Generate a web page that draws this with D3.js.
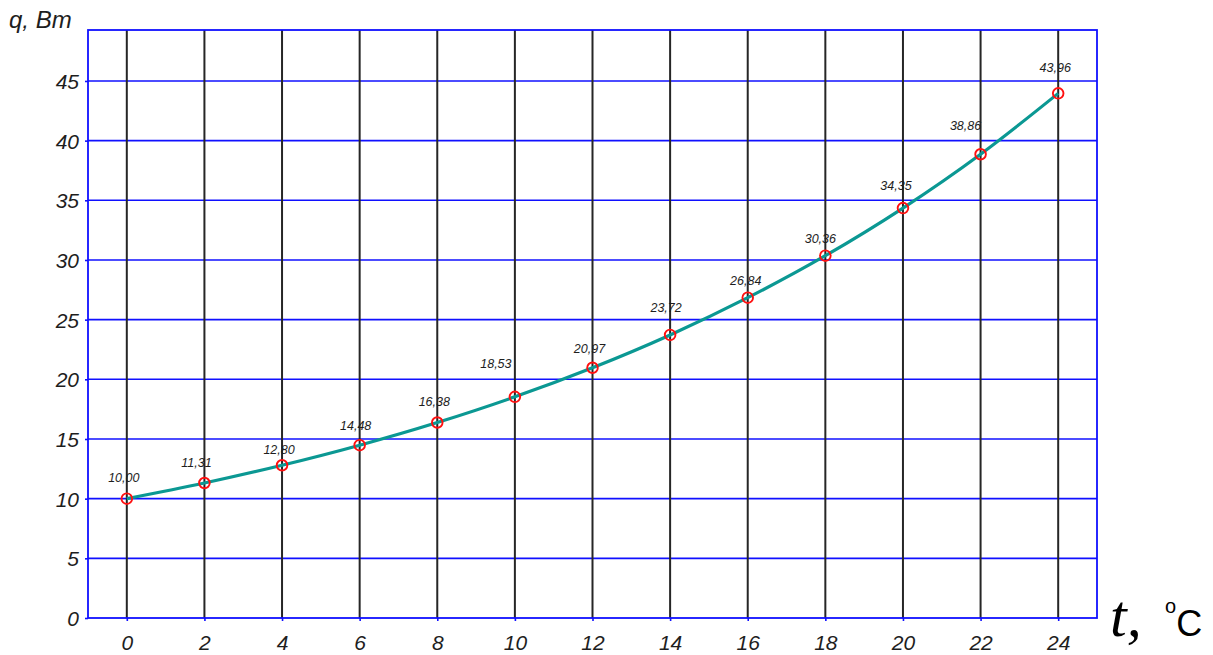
<!DOCTYPE html>
<html>
<head>
<meta charset="utf-8">
<script src="https://cdn.jsdelivr.net/npm/d3@7"></script>
<style>
  html, body { margin: 0; padding: 0; background: #fff; }
  svg { display: block; }
</style>
</head>
<body>
<svg id="chart" width="1213" height="655"></svg>
<script>
// Temperature values, °C
const temps = [0, 2, 4, 6, 8, 10, 12, 14, 16, 18, 20, 22, 24];
// Heat flow q, W
const heat = [10.00, 11.31, 12.80, 14.48, 16.38, 18.53, 20.97, 23.72, 26.84, 30.36, 34.35, 38.86, 43.96];
// Value labels, written with a decimal comma
const heatLabels = ["10,00", "11,31", "12,80", "14,48", "16,38", "18,53", "20,97",
                    "23,72", "26,84", "30,36", "34,35", "38,86", "43,96"];
// Axis ticks
const xTicks = [0, 2, 4, 6, 8, 10, 12, 14, 16, 18, 20, 22, 24];
const yTicks = [0, 5, 10, 15, 20, 25, 30, 35, 40, 45];
// Hand-placed nudges for the value labels (dx, dy from the point)
const labelNudge = [[-3, -17], [-8, -16], [-3, -11], [-4, -15], [-3, -17], [-19, -29], [-3, -15],
                    [-4, -23], [-2, -13], [-5, -13], [-7, -18], [-15, -24], [-3, -21]];

const svg = d3.select("#chart");
const plotLeft = 88, plotRight = 1097, plotTop = 30, plotBottom = 618;

const x = d3.scaleLinear().domain([-1, 25]).range([plotLeft, plotRight]);
const y = d3.scaleLinear().domain([0, 49.27]).range([plotBottom, plotTop]);

const BLUE = "#1010ff";
const INK = "#1e1e1e";
const SANS = "'Liberation Sans', Arial, sans-serif";

// horizontal grid (blue)
svg.append("g")
  .selectAll("line").data(yTicks.filter(d => d > 0)).join("line")
  .attr("x1", plotLeft).attr("x2", plotRight)
  .attr("y1", d => y(d)).attr("y2", d => y(d))
  .attr("stroke", BLUE).attr("stroke-width", 1.6);

// vertical grid (dark)
svg.append("g")
  .selectAll("line").data(xTicks).join("line")
  .attr("x1", d => x(d)).attr("x2", d => x(d))
  .attr("y1", plotTop).attr("y2", plotBottom)
  .attr("stroke", "#262626").attr("stroke-width", 2);

// frame
svg.append("rect")
  .attr("x", plotLeft).attr("y", plotTop)
  .attr("width", plotRight - plotLeft).attr("height", plotBottom - plotTop)
  .attr("fill", "none").attr("stroke", BLUE).attr("stroke-width", 1.8);

// axes
const xAxis = svg.append("g")
  .attr("transform", `translate(0,${plotBottom})`)
  .call(d3.axisBottom(x).tickValues(xTicks).tickSize(3).tickPadding(14).tickFormat(d3.format("d")));
const yAxis = svg.append("g")
  .attr("transform", `translate(${plotLeft},0)`)
  .call(d3.axisLeft(y).tickValues(yTicks).tickSize(3).tickPadding(6).tickFormat(d3.format("d")));

[xAxis, yAxis].forEach(a => {
  a.select(".domain").remove();
  a.selectAll(".tick line").attr("stroke", BLUE).attr("stroke-width", 1.6);
  a.selectAll(".tick text")
    .attr("fill", INK)
    .attr("font-family", SANS)
    .attr("font-style", "italic")
    .attr("font-size", 21);
});
xAxis.selectAll(".tick text").attr("dy", "0.71em");
yAxis.selectAll(".tick text").attr("dy", "0.36em");

// curve
const pts = temps.map((t, i) => [t, heat[i]]);
svg.append("path")
  .datum(pts)
  .attr("fill", "none")
  .attr("stroke", "#0b9893")
  .attr("stroke-width", 3.2)
  .attr("stroke-linejoin", "round")
  .attr("d", d3.line().x(d => x(d[0])).y(d => y(d[1])).curve(d3.curveMonotoneX));

// point markers
svg.append("g")
  .selectAll("circle").data(pts).join("circle")
  .attr("cx", d => x(d[0])).attr("cy", d => y(d[1]))
  .attr("r", 5.3)
  .attr("fill", "none")
  .attr("stroke", "#ff1010")
  .attr("stroke-width", 1.9);

// value labels
svg.append("g")
  .selectAll("text").data(pts).join("text")
  .attr("x", (d, i) => x(d[0]) + labelNudge[i][0])
  .attr("y", (d, i) => y(d[1]) + labelNudge[i][1])
  .attr("text-anchor", "middle")
  .attr("font-family", SANS)
  .attr("font-style", "italic")
  .attr("font-size", 12.5)
  .attr("fill", INK)
  .text((d, i) => heatLabels[i]);

// axis titles
svg.append("text")
  .attr("x", 9).attr("y", 28)
  .attr("font-family", SANS)
  .attr("font-style", "italic")
  .attr("font-size", 24)
  .attr("fill", INK)
  .text("q, Bm");

svg.append("text")
  .attr("x", 1110).attr("y", 636)
  .attr("font-family", "'Liberation Serif', 'Times New Roman', serif")
  .attr("font-style", "italic")
  .attr("font-size", 60)
  .attr("fill", "#000")
  .text("t,");

// degree mark as a raised small "o" followed by "C"
const unit = svg.append("text")
  .attr("x", 1165).attr("y", 636)
  .attr("font-family", SANS)
  .attr("fill", "#000");
unit.append("tspan").attr("font-size", 20).attr("dy", -23).text("o");
unit.append("tspan").attr("font-size", 36).attr("dy", 23).text("C");
</script>
</body>
</html>
